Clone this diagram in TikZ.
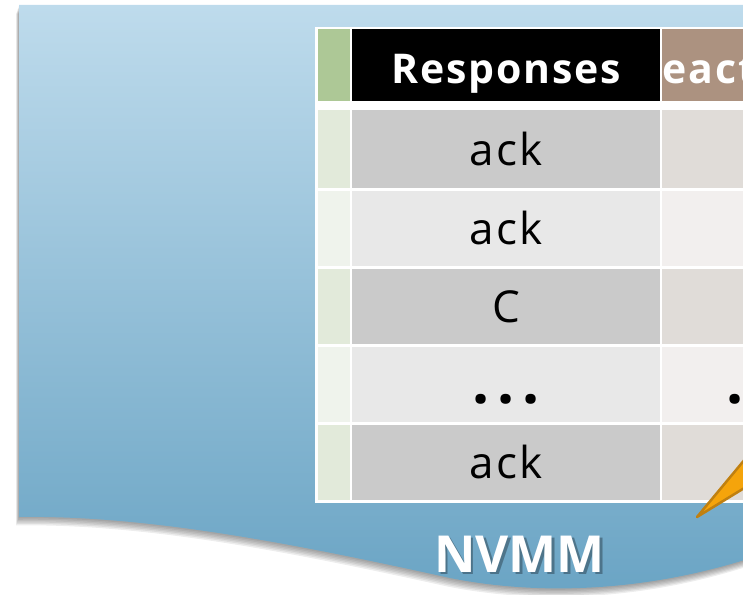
\documentclass[tikz,border=0pt]{standalone}
\usepackage{fontspec}
\setmainfont{Open Sans}
\newfontfamily\cellfont{Open Sans}[LetterSpace=6]
\newfontfamily\headfont{Open Sans}[LetterSpace=4.5]
\newfontfamily\labelfont{Open Sans}
\newfontfamily\dotfont{Open Sans}

\definecolor{ghead}{HTML}{ADC896}
\definecolor{gdark}{HTML}{E2EADA}
\definecolor{glight}{HTML}{EFF3EC}
\definecolor{rdark}{HTML}{CACACA}
\definecolor{rlight}{HTML}{E8E8E8}
\definecolor{thead}{HTML}{AC9280}
\definecolor{tdark}{HTML}{E0DCD8}
\definecolor{tlight}{HTML}{F2EFEE}
\definecolor{bluetop}{HTML}{BEDBEC}
\definecolor{bluebot}{HTML}{6AA4C4}
\definecolor{orfill}{HTML}{F5A40B}
\definecolor{ordraw}{HTML}{C08010}

\tikzset{
  cell/.style={rectangle, draw=none, inner sep=0pt, outer sep=0pt,
    text height=32pt, text depth=0pt,
    font=\cellfont\fontsize{44}{44}\selectfont},
  gcol/.style={minimum width=31.5pt},
  rcol/.style={minimum width=308pt},
  tcol/.style={minimum width=196pt},
  hrow/.style={minimum height=72pt},
  brow/.style={minimum height=78pt},
  srow/.style={minimum height=75pt},
  dotrow/.style={text height=37pt},
  headtext/.style={font=\headfont\bfseries\fontsize{41}{41}\selectfont, text=white,
    text height=36pt, text depth=0pt},
  boardlabel/.style={font=\labelfont\bfseries\fontsize{51}{51}\selectfont},
}

% three large bold dots on the baseline, about 26pt apart
\newcommand\rowdots{{\dotfont\bfseries\fontsize{60}{60}\selectfont
  .\hspace{8pt}.\hspace{8pt}.}}

\newcommand\boardpath{(19,5) -- (760,5) -- (760,555)
  .. controls (650,592) and (540,596) .. (450,578)
  .. controls (300,545) and (150,515) .. (19,517) -- cycle}

\begin{document}
\begin{tikzpicture}[x=1pt, y=-1pt]
\useasboundingbox (0,0) rectangle (743,594);

% soft shadow of the board
\foreach \k in {6,5,4,3,2,1}{
  \fill[black, opacity=0.07, shift={(-0.5*\k,1.4*\k)}] \boardpath;
}
% the board
\shade[top color=bluetop, bottom color=bluebot] \boardpath;

% table frame
\fill[white] (315,27) rectangle (760,503);

% header row
\node[cell, gcol, hrow, fill=ghead] (g0) at (333.75,65) {};
\node[cell, rcol, hrow, fill=black, headtext] (r0) at (506,65) {Responses};
\node[cell, tcol, hrow, fill=thead] (t0) at (760,65) {};
\node[headtext, anchor=base west, inner sep=0pt, text height=, text depth=]
  (t0l) at ([xshift=0.5pt]t0.west |- 0,83) {eact};

% body rows
\node[cell, gcol, brow, fill=gdark] (g1) at (333.75,149) {};
\node[cell, rcol, brow, fill=rdark] (r1) at (506,149) {ack};
\node[cell, tcol, brow, fill=tdark] (t1) at (760,149) {};

\node[cell, gcol, srow, fill=glight] (g2) at (333.75,228.5) {};
\node[cell, rcol, srow, fill=rlight] (r2) at (506,228.5) {ack};
\node[cell, tcol, srow, fill=tlight] (t2) at (760,228.5) {};

\node[cell, gcol, srow, fill=gdark] (g3) at (333.75,306.5) {};
\node[cell, rcol, srow, fill=rdark] (r3) at (506,306.5) {C};
\node[cell, tcol, srow, fill=tdark] (t3) at (760,306.5) {};

\node[cell, gcol, srow, fill=glight] (g4) at (333.75,384.5) {};
\node[cell, rcol, srow, dotrow, fill=rlight] (r4) at (506,384.5) {\rowdots};
\node[cell, tcol, srow, dotrow, fill=tlight] (t4) at (760,384.5) {\rowdots};

\node[cell, gcol, srow, fill=gdark] (g5) at (333.75,462.5) {};
\node[cell, rcol, srow, fill=rdark] (r5) at (506,462.5) {ack};
\node[cell, tcol, srow, fill=tdark] (t5) at (760,462.5) {};

% callout pointer
\coordinate (tip) at (697,517);
\filldraw[fill=orfill, draw=ordraw, line width=2.5pt, line join=round]
  (tip) -- (790,405) -- (790,460) -- cycle;

% board label with drop shadow
\node[boardlabel, text=black, opacity=0.3] at (522,556.5) {NVMM};
\node[boardlabel, text=white] (label) at (519.5,554) {NVMM};
\end{tikzpicture}
\end{document}
